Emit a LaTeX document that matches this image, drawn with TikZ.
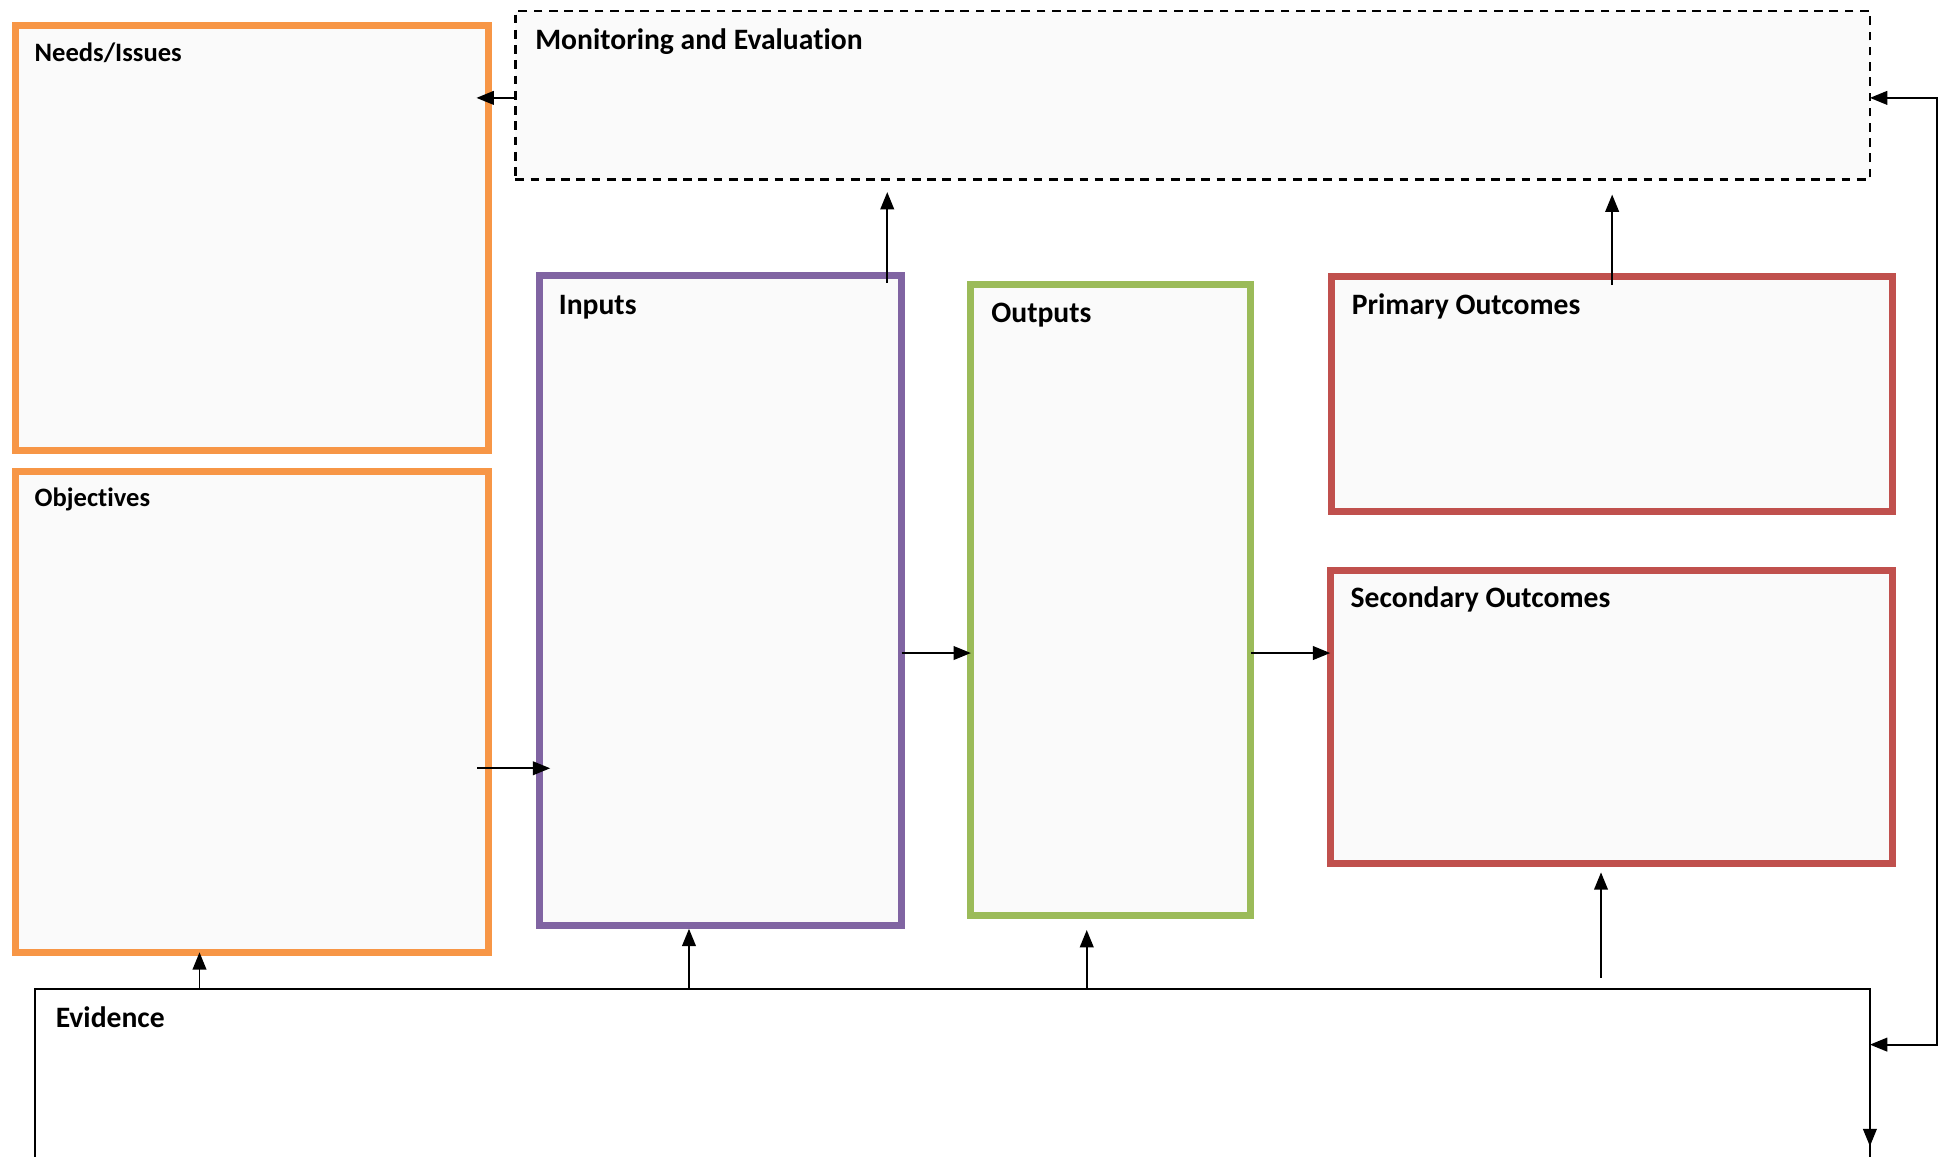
\documentclass[tikz,border=0pt]{standalone}
\usepackage{fontspec}
\setmainfont{Carlito}[Ligatures=NoCommon]
\usetikzlibrary{arrows.meta}

\definecolor{needsorange}{HTML}{F79646}
\definecolor{inputpurple}{HTML}{8064A2}
\definecolor{outputgreen}{HTML}{9BBB59}
\definecolor{outcomered}{HTML}{C0504D}
\definecolor{boxgray}{HTML}{FAFAFA}

\begin{document}
\begin{tikzpicture}[
		every node/.style={rectangle, outer sep=0pt, inner sep=0pt},
		box/.style={draw, line width=1.6pt, fill=boxgray},
		orangebox/.style={box, draw=needsorange},
		purplebox/.style={box, draw=inputpurple},
		greenbox/.style={box, draw=outputgreen},
		redbox/.style={box, draw=outcomered},
		dashbox/.style={draw, line width=0.55pt, dash pattern=on 2pt off 1.5pt, fill=boxgray},
		evbox/.style={draw, line width=0.5pt, fill=white},
		heading/.style={anchor=base west, font=\bfseries\fontsize{6.8}{8.2}\selectfont},
		smallheading/.style={heading, font=\bfseries\fontsize{6.1}{7.3}\selectfont},
		arrow/.style={-{Triangle[length=1.4mm, width=1.1mm]}, line width=0.45pt}
	]
  \useasboundingbox (0,0) rectangle (15.68,-9.33);
  \clip (0,0) rectangle (15.68,-9.33);
  % boxes
  \node (needs) [orangebox, minimum width=3.82cm, minimum height=3.43cm] at (2.035cm, -1.92cm) {};
  \node (obj) [orangebox, minimum width=3.82cm, minimum height=3.88cm] at (2.035cm, -5.745cm) {};
  \node (me) [dashbox, minimum width=10.93cm, minimum height=1.36cm] at (9.625cm, -0.77cm) {};
  \node (inputs) [purplebox, minimum width=2.92cm, minimum height=5.24cm] at (5.815cm, -4.845cm) {};
  \node (outputs) [greenbox, minimum width=2.26cm, minimum height=5.09cm] at (8.965cm, -4.84cm) {};
  \node (prim) [redbox, minimum width=4.53cm, minimum height=1.89cm] at (13.01cm, -3.18cm) {};
  \node (sec) [redbox, minimum width=4.54cm, minimum height=2.36cm] at (13.005cm, -5.785cm) {};
  \node (ev) [evbox, minimum width=14.81cm, minimum height=2.4cm] at (7.685cm, -9.18cm) {};
  % headings
  \node [smallheading] at ([shift={(0.155,-0.293)}]needs.north west) {Needs/Issues};
  \node [smallheading] at ([shift={(0.155,-0.285)}]obj.north west) {Objectives};
  \node [heading] at ([shift={(0.16,-0.313)}]me.north west) {Monitoring and Evaluation};
  \node [heading] at ([shift={(0.155,-0.315)}]inputs.north west) {Inputs};
  \node [heading] at ([shift={(0.165,-0.305)}]outputs.north west) {Outputs};
  \node [heading] at ([shift={(0.165,-0.305)}]prim.north west) {Primary Outcomes};
  \node [heading] at ([shift={(0.165,-0.295)}]sec.north west) {Secondary Outcomes};
  \node [heading] at ([shift={(0.17,-0.31)}]ev.north west) {Evidence};
  % flow
  \draw [arrow, shorten >=-1mm] ([yshift=-0.02cm]me.west) -- ([yshift=-0.02cm]me.west -| needs.east);
  \draw [arrow, shorten <=-0.95mm, shorten >=-0.85mm] ([yshift=-0.455cm]obj.east) -- ([yshift=-0.455cm]obj.east -| inputs.west);
  \draw [arrow] ([yshift=-0.425cm]inputs.east) -- ([yshift=-0.425cm]inputs.east -| outputs.west);
  \draw [arrow] ([yshift=-0.43cm]outputs.east) -- ([yshift=-0.43cm]outputs.east -| sec.west);
  \draw [arrow, shorten <=-0.55mm, shorten >=1mm] ([xshift=1.345cm]inputs.north) -- ([xshift=1.345cm]inputs.north |- me.south);
  \draw [arrow, shorten <=-0.65mm, shorten >=1.2mm] (prim.north) -- (prim.north |- me.south);
  % feedback on the right
  \coordinate (evin) at ([yshift=-0.45cm]ev.north east);
  \draw [{Triangle[length=1.4mm, width=1.1mm]}-{Triangle[length=1.4mm, width=1.1mm]}, line width=0.45pt]
    ([yshift=-0.02cm]me.east) -- ++(0.54,0) |- (evin);
  % evidence feeds up
  \draw [arrow] ([xshift=-0.425cm]obj.south |- ev.north) -- ([xshift=-0.425cm]obj.south);
  \draw [arrow, shorten >=0.3mm] ([xshift=-0.255cm]inputs.south |- ev.north) -- ([xshift=-0.255cm]inputs.south);
  \draw [arrow, shorten >=1.2mm] ([xshift=-0.195cm]outputs.south |- ev.north) -- ([xshift=-0.195cm]outputs.south);
  \draw [arrow, shorten <=0.9mm, shorten >=0.75mm] ([xshift=-0.085cm]sec.south |- ev.north) -- ([xshift=-0.085cm]sec.south);
  \coordinate (evout) at ([yshift=-1.0cm]ev.north east);
  \draw [arrow] (evout) -- ++(0,-0.27);
\end{tikzpicture}
\end{document}
